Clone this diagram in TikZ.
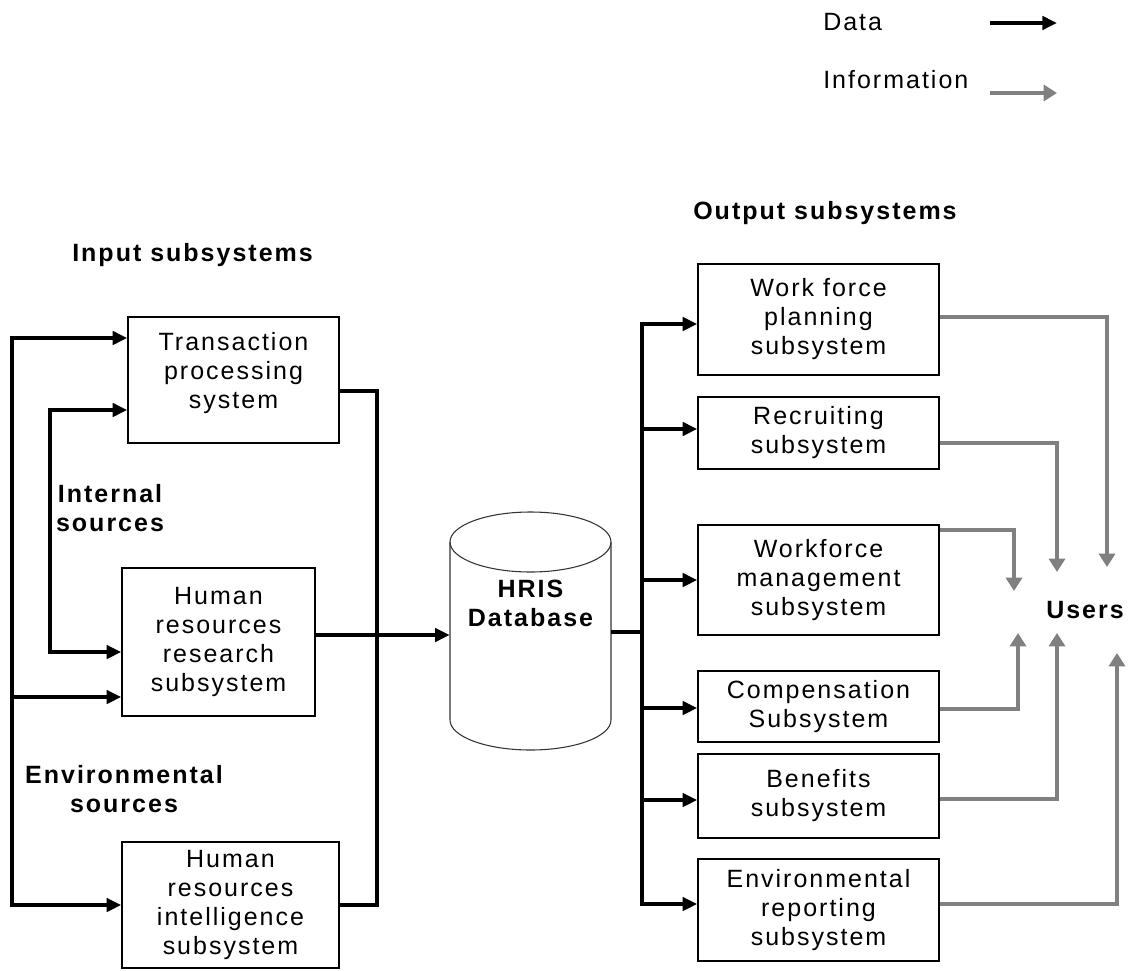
\documentclass[tikz,border=0pt]{standalone}
\usepackage{fontspec}
\setmainfont{Liberation Sans}[LetterSpace=8]
\usetikzlibrary{arrows.meta}
\definecolor{infogray}{RGB}{128,128,128}
\begin{document}
\begin{tikzpicture}[x=0.75pt,y=-0.75pt,
  every node/.style={inner sep=0pt, font=\fontsize{18.75}{21.75}\selectfont},
  box/.style={draw, line width=1.1pt, align=center},
  lbl/.style={font=\fontsize{18.75}{21.75}\selectfont\bfseries, align=center},
  txt/.style={align=center},
  dline/.style={line width=2.6pt},
  data/.style={line width=2.6pt, -{Triangle[length=11pt,width=10pt]}},
  datab/.style={line width=2.6pt, {Triangle[length=11pt,width=10pt]}-{Triangle[length=11pt,width=10pt]}},
  info/.style={line width=3pt, draw=infogray, -{Triangle[length=10pt,width=12pt,fill=infogray]}},
  dbline/.style={line width=0.8pt, draw=black!80},
]
\useasboundingbox (0,0) rectangle (1130,970);

% legend
\node[anchor=west] (ldata) at (823,22) {Data};
\node[anchor=west] (linfo) at (823,80) {Information};
\coordinate (la1) at (990,23); \coordinate (la2) at (1057,23);
\coordinate (lb1) at (990,93); \coordinate (lb2) at (1057,93);
\draw[data] (la1) -- (la2);
\draw[info] (lb1) -- (lb2);

% headings
\node[lbl, anchor=west] (inhead) at (72,255) {Input subsystems};
\node[lbl, anchor=west] (outhead) at (693,213) {Output subsystems};
\node[lbl] (intsrc) at (110,508) {Internal\\sources};
\node[lbl] (envsrc) at (124,789) {Environmental\\sources};

% input boxes
\node[box, minimum width=158.25pt, minimum height=94.5pt] (tps) at (233.5,380) {};
\node[txt] (tpstxt) at (233.5,373) {Transaction\\processing\\system};
\node[box, minimum width=144.75pt, minimum height=111pt] (hrr) at (218.5,642) {Human\\resources\\research\\subsystem};
\node[box, minimum width=162.75pt, minimum height=94.5pt] (hri) at (230.5,905) {Human\\resources\\intelligence\\subsystem};

% database
\node[minimum width=120.75pt, minimum height=178.5pt] (db) at (530.5,631) {};
\draw[dbline] (450,542) -- (450,720) arc[start angle=180, end angle=360, x radius=60.375pt, y radius=22.5pt] -- (611,542);
\draw[dbline] (530.5,542) ellipse [x radius=60.375pt, y radius=22.5pt];
\node[lbl] (dbtxt) at (530.5,603) {HRIS\\Database};

% output boxes
\node[box, minimum width=180.75pt, minimum height=83.25pt] (wfp) at (818.5,319.5) {Work force\\planning\\subsystem};
\node[box, minimum width=180.75pt, minimum height=54pt] (rec) at (818.5,433) {Recruiting\\subsystem};
\node[box, minimum width=180.75pt, minimum height=82.5pt] (wfm) at (818.5,580) {Workforce\\management\\subsystem};
\node[box, minimum width=180.75pt, minimum height=53.25pt] (com) at (818.5,706.5) {Compensation\\Subsystem};
\node[box, minimum width=180.75pt, minimum height=63pt] (ben) at (818.5,796) {Benefits\\subsystem};
\node[box, minimum width=180.75pt, minimum height=76.5pt] (env) at (818.5,910) {Environmental\\reporting\\subsystem};

\node[lbl] (users) at (1085,610) {Users};

% left data connectors
\coordinate (L1) at (12,338); \coordinate (L2) at (12,905); \coordinate (L3) at (12,697);
\draw[datab] (L1 -| tps.west) -- (L1) -- (L2) -- (hri.west);
\draw[data] (L3) -- (L3 -| hrr.west);
\coordinate (I1) at (50,410); \coordinate (I2) at (50,652);
\draw[datab] (I1 -| tps.west) -- (I1) -- (I2) -- (I2 -| hrr.west);

% collector
\coordinate (C1) at (377,391); \coordinate (C2) at (377,905);
\draw[line width=3.5pt] (tps.east |- C1) -- (C1) -- (C2) -- (hri.east);
\coordinate (dbin) at (450,635);
\draw[data] (hrr.east |- dbin) -- (db.west |- dbin);

% bus
\coordinate (B0) at (642,632);
\draw[dline] (db.east |- B0) -- (B0);
\coordinate (b1) at (642,324); \coordinate (b2) at (642,429); \coordinate (b3) at (642,580);
\coordinate (b4) at (642,708); \coordinate (b5) at (642,800); \coordinate (b6) at (642,904);
\draw[datab] (b1 -| wfp.west) -- (b1) -- (b6) -- (b6 -| env.west);
\draw[data] (b2) -- (b2 -| rec.west);
\draw[data] (b3) -- (b3 -| wfm.west);
\draw[data] (b4) -- (b4 -| com.west);
\draw[data] (b5) -- (b5 -| ben.west);

% information connectors
\coordinate (g1a) at (1107,317); \coordinate (g1) at (1107,567);
\coordinate (g2a) at (1057,443); \coordinate (g2) at (1057,572);
\coordinate (g3a) at (1014,530); \coordinate (g3) at (1014,591);
\coordinate (g4a) at (1018,709); \coordinate (g4) at (1018,633);
\coordinate (g5a) at (1057,799); \coordinate (g5) at (1057,633);
\coordinate (g6a) at (1117,904); \coordinate (g6) at (1117,653);
\draw[info] (wfp.east |- g1a) -- (g1a) -- (g1);
\draw[info] (rec.east |- g2a) -- (g2a) -- (g2);
\draw[info] (wfm.east |- g3a) -- (g3a) -- (g3);
\draw[info] (com.east |- g4a) -- (g4a) -- (g4);
\draw[info] (ben.east |- g5a) -- (g5a) -- (g5);
\draw[info] (env.east |- g6a) -- (g6a) -- (g6);
\end{tikzpicture}
\end{document}
